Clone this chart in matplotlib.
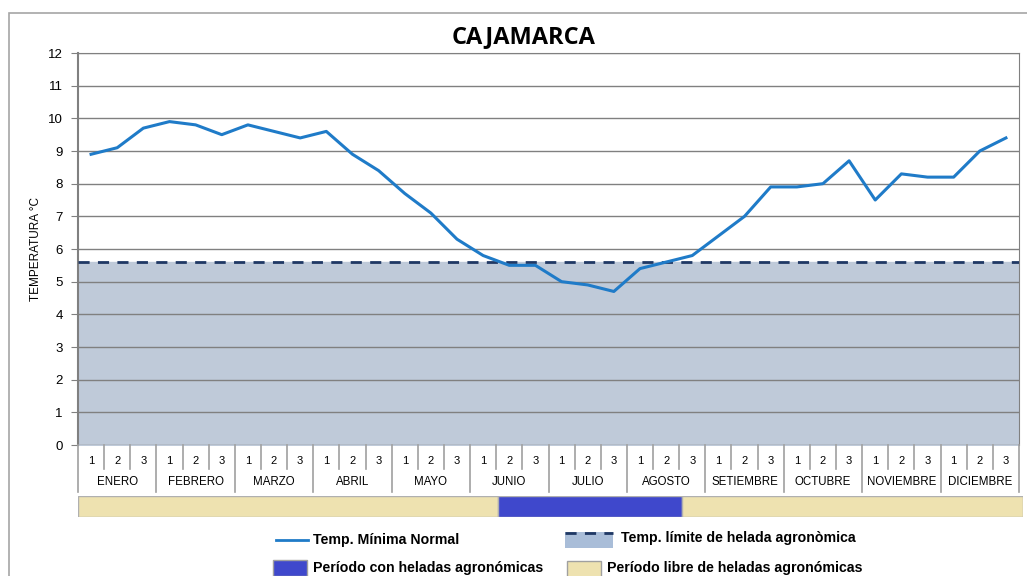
import numpy as np
import matplotlib
matplotlib.use("Agg")
import matplotlib.pyplot as plt
from matplotlib.patches import Rectangle
from matplotlib.lines import Line2D

plt.rcParams['font.family'] = ['Liberation Sans', 'DejaVu Sans']

meses = ["ENERO", "FEBRERO", "MARZO", "ABRIL", "MAYO", "JUNIO", "JULIO",
         "AGOSTO", "SETIEMBRE", "OCTUBRE", "NOVIEMBRE", "DICIEMBRE"]
decadas = ["1", "2", "3"]
temp_min = [8.9, 9.1, 9.7, 9.9, 9.8, 9.5, 9.8, 9.6, 9.4, 9.6, 8.9, 8.4,
            7.7, 7.1, 6.3, 5.8, 5.5, 5.5, 5.0, 4.9, 4.7, 5.4, 5.6, 5.8,
            6.4, 7.0, 7.9, 7.9, 8.0, 8.7, 7.5, 8.3, 8.2, 8.2, 9.0, 9.4]
temp_limite = 5.6
# 1 = periodo con heladas, 0 = periodo libre (por decada)
heladas = [0] * 16 + [1] * 7 + [0] * 13

W, H = 1027, 576
fig = plt.figure(figsize=(W / 100, H / 100), dpi=100)


def fbox(x0, y0, x1, y1):
    return [x0 / W, 1 - y1 / H, (x1 - x0) / W, (y1 - y0) / H]


# marco exterior
fig.add_artist(Rectangle((9 / W, -0.1), 1.2, 1 - 13 / H + 0.1, transform=fig.transFigure,
                         fill=False, edgecolor="#a6a6a6", lw=1.2))

n = len(temp_min)
x = np.arange(n) + 0.5

ax = fig.add_axes(fbox(78, 53, 1019, 445))
ax.fill_between([0, n], 0, temp_limite, color="#bfcad9", zorder=1)
ax.plot([0, n], [temp_limite, temp_limite], color="#1f3864", lw=2, dashes=(4, 3), zorder=3)
ax.plot(x, temp_min, color="#1f7bc8", lw=2.2, zorder=4)
ax.set_xlim(0, n)
ax.set_ylim(0, 12)
ax.set_yticks(range(0, 13))
ax.yaxis.grid(True, color="#808080", lw=1)
ax.set_axisbelow(False)
ax.set_xticks([])
ax.tick_params(axis="y", length=5, color="#808080", labelsize=9.5, pad=6)
for s in ["top", "right", "left"]:
    ax.spines[s].set_color("#808080")
ax.spines["bottom"].set_visible(False)
ax.spines["left"].set_linewidth(1.5)
for gl in ax.get_ygridlines():
    gl.set_zorder(2)
ax.set_ylabel("TEMPERATURA °C", fontsize=8.5, labelpad=4)
fig.text(524 / W, 1 - 37 / H, "CAJAMARCA", ha="center", va="center",
         fontsize=17, fontweight="bold", family=["Open Sans", "DejaVu Sans"])

# tabla de decadas y meses
tx = fig.add_axes(fbox(78, 445, 1019, 492))
tx.set_xlim(0, n)
tx.set_ylim(0, 1)
tx.axis("off")
for i in range(n + 1):
    top = 1.0
    bot = 0.0 if i % 3 == 0 else 0.48
    tx.plot([i, i], [bot, top], color="#a0a0a0", lw=1.2, clip_on=False)
for i in range(n):
    tx.text(i + 0.5, 0.67, decadas[i % 3], ha="center", va="center", fontsize=8)
for m, nombre in enumerate(meses):
    tx.text(m * 3 + 1.5, 0.22, nombre, ha="center", va="center", fontsize=8.3)

# barra de periodo de heladas
bx = fig.add_axes(fbox(78, 496, 1023, 517))
bx.set_xlim(0, n)
bx.set_ylim(0, 1)
bx.axis("off")
start = 0
for i in range(1, n + 1):
    if i == n or heladas[i] != heladas[start]:
        bx.add_patch(Rectangle((start, 0), i - start, 1,
                               facecolor="#3f48cc" if heladas[start] else "#eee2b0",
                               edgecolor="#b0b0b0", lw=1))
        start = i

# leyenda
tf = fig.transFigure
fs = 10.2
fig.add_artist(Line2D([276 / W, 308 / W], [1 - 540 / H] * 2, color="#1f7bc8", lw=2, transform=tf))
fig.text(313 / W, 1 - 540 / H, "Temp. Mínima Normal", fontsize=fs, fontweight="bold", va="center")
fig.add_artist(Rectangle((565 / W, 1 - 548 / H), 48 / W, 16 / H, facecolor="#a9bdd8",
                         edgecolor="none", transform=tf))
fig.add_artist(Line2D([565 / W, 613 / W], [1 - 533 / H] * 2, color="#1f3864", lw=2,
                      dashes=(4, 3), transform=tf))
fig.text(621 / W, 1 - 538 / H, "Temp. límite de helada agronòmica", fontsize=fs,
         fontweight="bold", va="center")
fig.add_artist(Rectangle((273 / W, 1 - 576 / H), 34 / W, 16 / H, facecolor="#3f48cc",
                         edgecolor="#a0a0a0", transform=tf))
fig.text(313 / W, 1 - 568 / H, "Período con heladas agronómicas", fontsize=fs,
         fontweight="bold", va="center")
fig.add_artist(Rectangle((567 / W, 1 - 578 / H), 34 / W, 17 / H, facecolor="#eee2b0",
                         edgecolor="#a0a0a0", transform=tf))
fig.text(607 / W, 1 - 568 / H, "Período libre de heladas agronómicas", fontsize=fs,
         fontweight="bold", va="center")

fig.savefig("out.png", dpi=100)
